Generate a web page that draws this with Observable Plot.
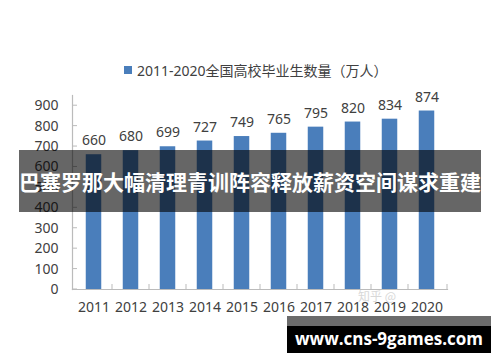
<!DOCTYPE html>
<html><head><meta charset="utf-8">
<script src="https://cdn.jsdelivr.net/npm/d3@7"></script>
<script src="https://cdn.jsdelivr.net/npm/@observablehq/plot@0.6"></script>
<style>
body{margin:0;background:#fff;}
#wrap{position:relative;width:500px;height:362px;overflow:hidden;font-family:"Noto Sans","Noto Sans CJK SC",sans-serif;}
#wrap svg{position:absolute;left:0;top:0;}
#legend{position:absolute;left:124px;top:60px;font-size:14px;color:#404040;display:flex;align-items:center;white-space:nowrap;font-family:"Noto Sans","Noto Sans CJK SC",sans-serif;}
#legend .sw{width:8px;height:8px;background:#4a7ebb;margin-right:5px;}
#banner{position:absolute;left:19px;top:150px;width:462px;height:62px;background:rgba(0,0,0,0.6);color:#fff;font-weight:bold;font-size:21px;display:flex;align-items:center;justify-content:center;white-space:nowrap;font-family:"Noto Sans CJK SC",sans-serif;}
#site{position:absolute;left:287px;top:316px;width:204px;height:37px;background:#000;}
#site .top{height:10px;background:#6b6b6b;}
#site .txt{color:#fff;font-weight:bold;font-size:17px;text-align:center;line-height:26px;font-family:"Open Sans",sans-serif;}
#zh{position:absolute;left:358px;top:287px;font-size:12px;color:#d8d8d8;font-family:"Noto Sans CJK SC",sans-serif;}
</style></head>
<body><div id="wrap"></div>
<script>
const years = ["2011","2012","2013","2014","2015","2016","2017","2018","2019","2020"];
const graduates = [660,680,699,727,749,765,795,820,834,874];
const yTicks = [0,100,200,300,400,500,600,700,800,900];
const legendLabel = "2011-2020全国高校毕业生数量（万人）";
const bannerText = "巴塞罗那大幅清理青训阵容释放薪资空间谋求重建";
const siteText = "www.cns-9games.com";
const faintText = "知乎 @";

const data = years.map((y,i)=>({year:y, value:graduates[i]}));

const chart = Plot.plot({
  width:500, height:362,
  marginLeft:72, marginRight:53, marginTop:95, marginBottom:73,
  style:{fontFamily:"Noto Sans, sans-serif", background:"transparent"},
  x:{domain:years, padding:0, axis:null},
  y:{domain:[0,950], axis:null},
  marks:[
    Plot.barY(data,{x:"year", y:"value", fill:"#4a7ebb", insetLeft:10.75, insetRight:10.75}),
    Plot.text(data,{x:"year", y:"value", text:d=>String(d.value), dy:-14, fontSize:14, fill:"#404040"}),
    Plot.frame({anchor:"left", stroke:"#bbb", strokeWidth:1.2}),
    Plot.frame({anchor:"bottom", stroke:"#bbb", strokeWidth:1.2}),
    Plot.axisY({ticks:yTicks, tickSize:0, tickPadding:14, fontSize:14, color:"#404040", label:null}),
    Plot.axisX({tickSize:0, tickPadding:13, fontSize:14, color:"#404040", label:null})
  ]
});
const wrap = document.getElementById("wrap");
wrap.appendChild(chart);

// tick marks placed from the chart's own scales
const xs = chart.scale("x"), ys = chart.scale("y");
const svg = d3.select(chart);
const y0 = ys.apply(0), xLeft = xs.range[0];
const g = svg.append("g").attr("stroke","#bbb").attr("stroke-width",1);
yTicks.forEach(t=>{
  const yy = ys.apply(t);
  g.append("line").attr("x1",xLeft).attr("x2",xLeft+5).attr("y1",yy).attr("y2",yy);
});
years.slice(1).forEach(yr=>{
  const xx = xs.apply(yr);
  g.append("line").attr("x1",xx).attr("x2",xx).attr("y1",y0).attr("y2",y0-5);
});
{
  const xx = xs.range[1];
  g.append("line").attr("x1",xx).attr("x2",xx).attr("y1",y0).attr("y2",y0-5);
}

const lg = document.createElement("div"); lg.id="legend";
lg.innerHTML = '<span class="sw"></span><span></span>';
lg.lastChild.textContent = legendLabel;
wrap.appendChild(lg);

const zh = document.createElement("div"); zh.id="zh"; zh.textContent = faintText; wrap.appendChild(zh);

const bn = document.createElement("div"); bn.id="banner"; bn.textContent = bannerText; wrap.appendChild(bn);

const st = document.createElement("div"); st.id="site";
st.innerHTML = '<div class="top"></div><div class="txt"></div>';
st.lastChild.textContent = siteText;
wrap.appendChild(st);
</script>
</body></html>
